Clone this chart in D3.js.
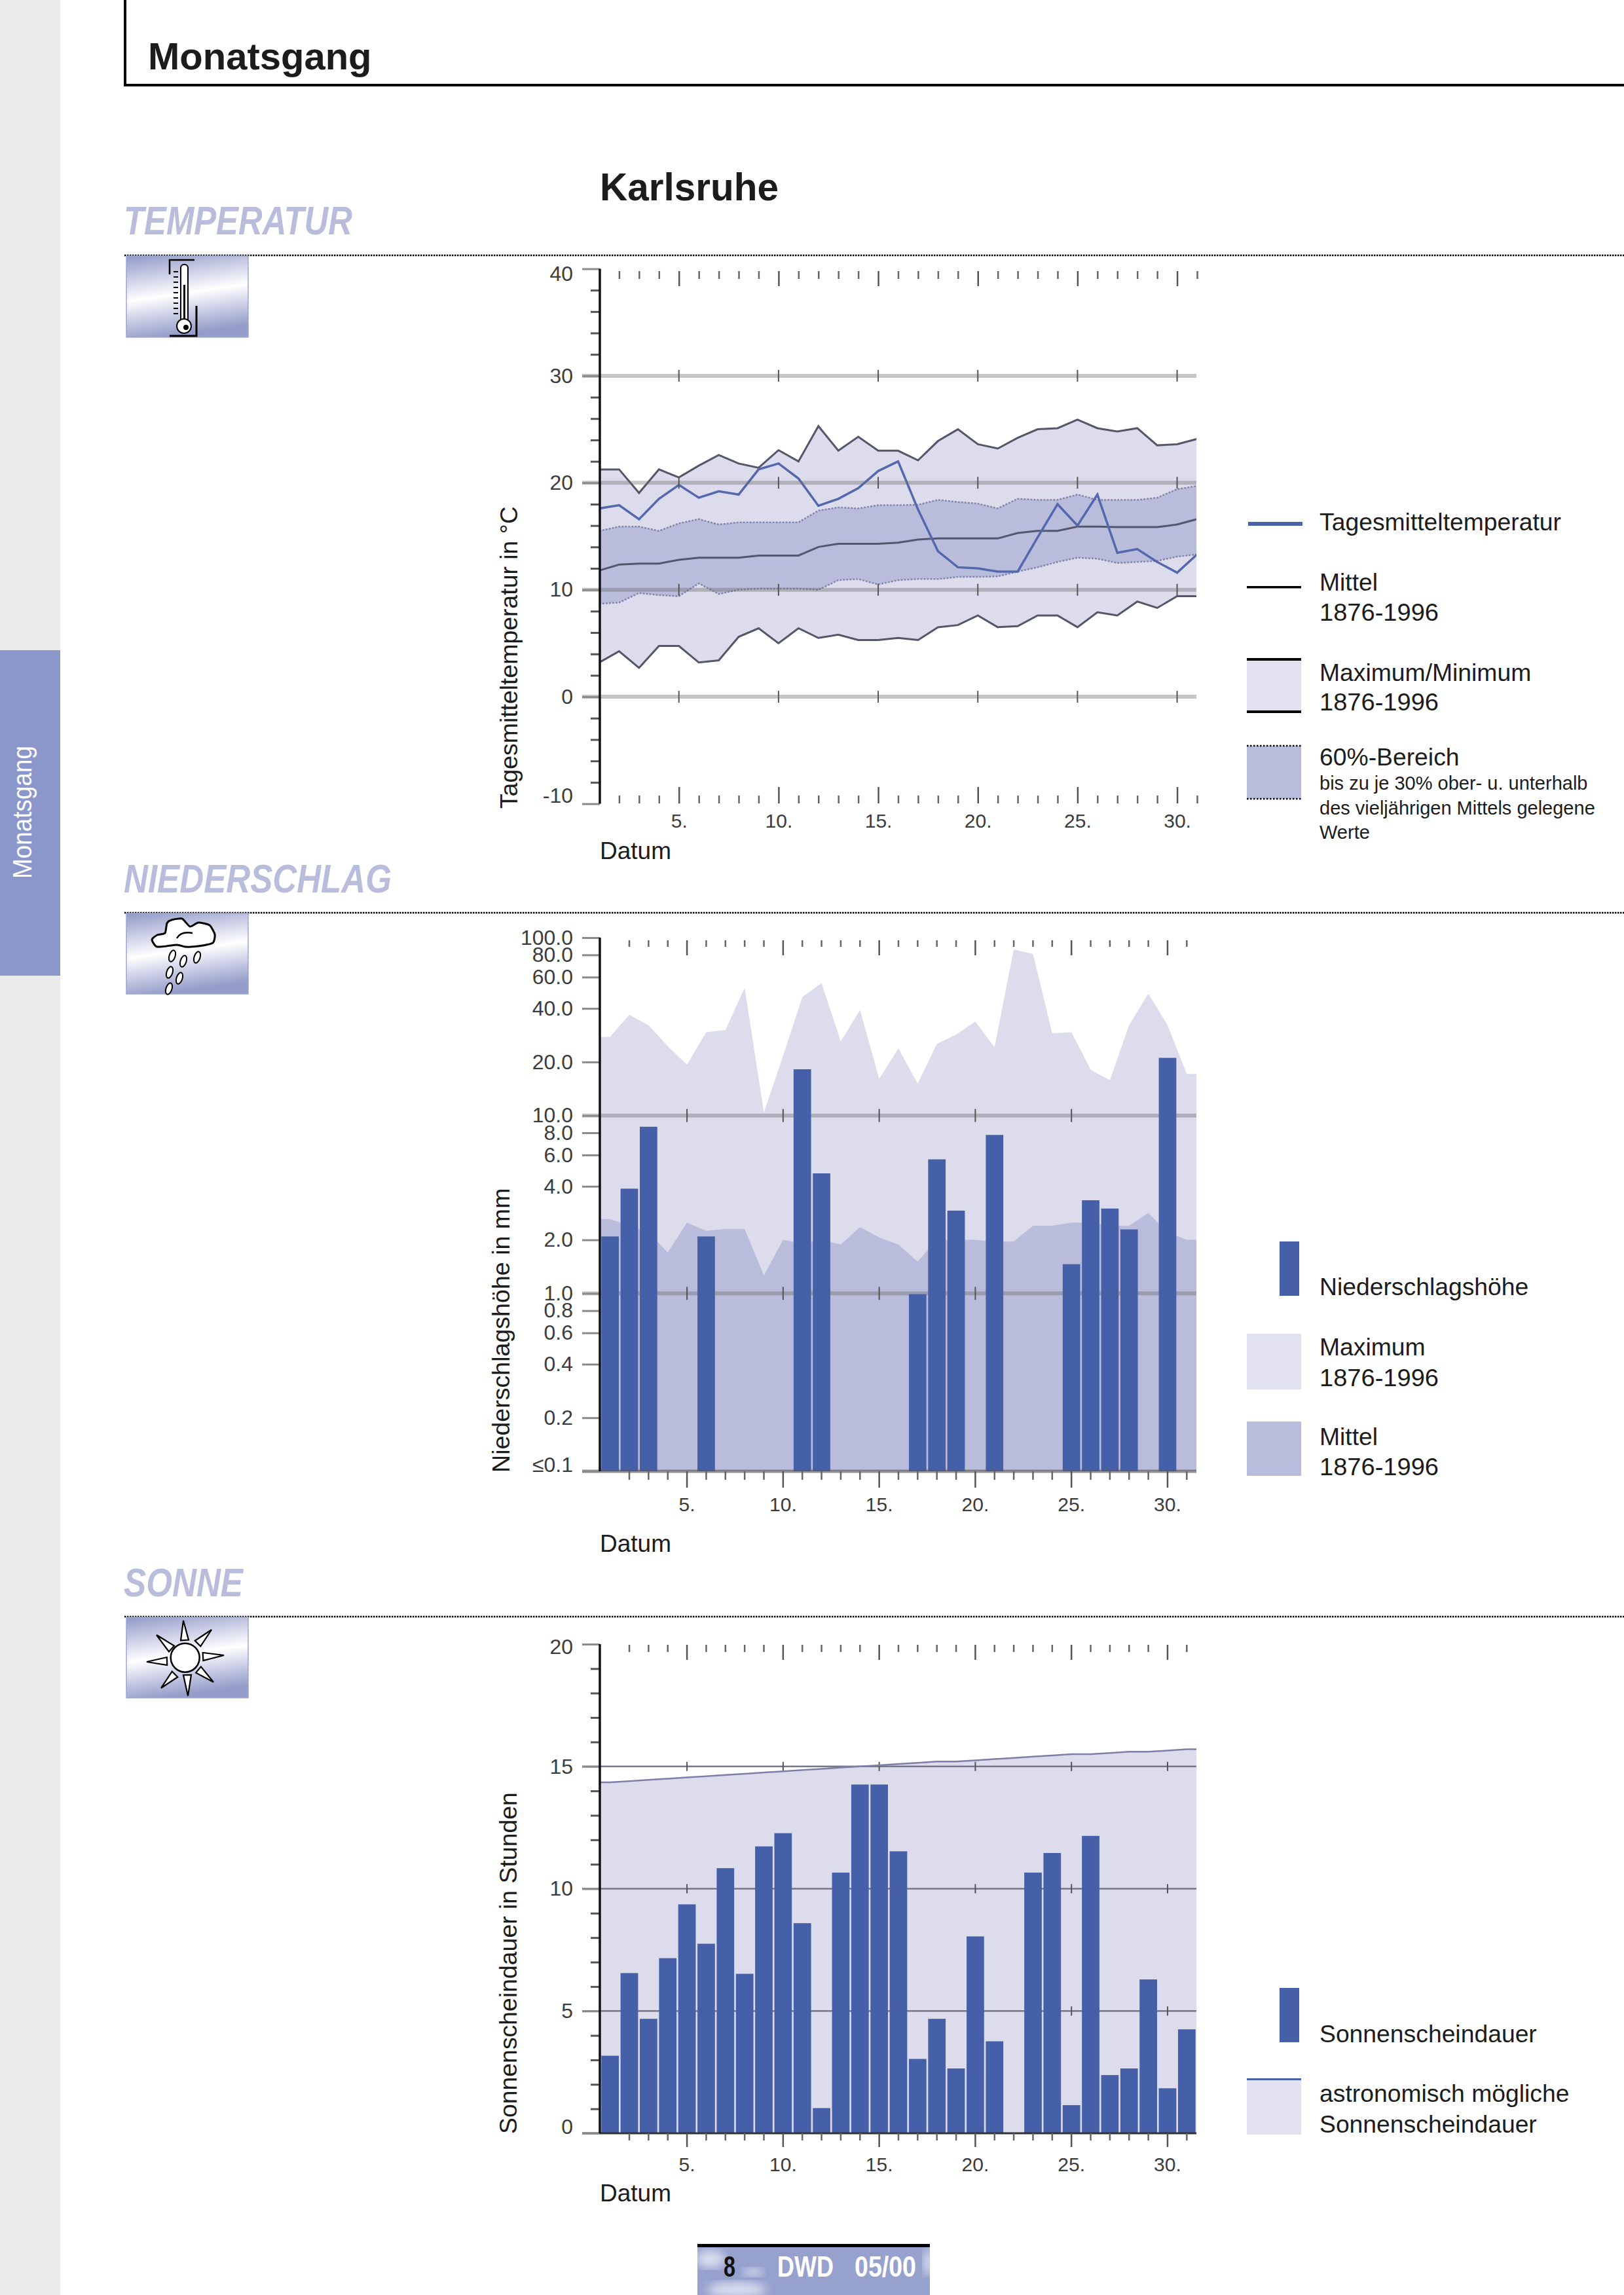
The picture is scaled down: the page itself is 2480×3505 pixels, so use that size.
<!DOCTYPE html>
<html>
<head>
<meta charset="utf-8">
<title>Monatsgang Karlsruhe</title>
<script src="https://cdnjs.cloudflare.com/ajax/libs/d3/7.8.5/d3.min.js"></script>
<style>
  html, body { margin: 0; padding: 0; background: #fff; }
  svg { display: block; }
  text { font-family: "Liberation Sans", Arial, sans-serif; fill: #1c1c1c; }
  .domain { display: none; }
</style>
</head>
<body>
<svg class="page" width="2480" height="3505"></svg>
<script>
var days = d3.range(1, 32);
var labelDays = [5, 10, 15, 20, 25, 30];

// Temperatur
var tempMax = [21.25, 21.25, 19.05, 21.25, 20.5, 21.6, 22.6, 21.8, 21.4, 23.05, 22.0, 25.3, 23.0, 24.3, 23.0, 23.0, 22.1, 23.9, 25.0, 23.6, 23.2, 24.2, 25.0, 25.1, 25.9, 25.1, 24.8, 25.1, 23.5, 23.6, 24.1];
var tempUpper = [15.5, 15.9, 15.9, 15.5, 16.2, 16.6, 16.1, 16.3, 16.3, 16.3, 16.3, 17.4, 17.7, 17.6, 17.9, 17.9, 17.95, 18.4, 18.2, 18.05, 17.6, 18.5, 18.4, 18.4, 18.9, 18.4, 18.4, 18.4, 18.6, 19.4, 19.7];
var tempMean = [11.8, 12.35, 12.45, 12.45, 12.8, 13.0, 13.0, 13.0, 13.2, 13.2, 13.2, 14.0, 14.3, 14.3, 14.3, 14.4, 14.7, 14.8, 14.8, 14.8, 14.8, 15.3, 15.5, 15.5, 15.9, 15.9, 15.85, 15.85, 15.85, 16.1, 16.6];
var tempLower = [8.7, 8.8, 9.7, 9.5, 9.4, 10.6, 9.6, 10.0, 10.1, 10.1, 10.1, 10.0, 10.9, 11.0, 10.5, 10.9, 11.0, 11.0, 11.2, 11.2, 11.25, 11.7, 12.1, 12.6, 13.0, 12.9, 12.5, 12.6, 12.7, 13.1, 13.3];
var tempMin = [3.2, 4.25, 2.7, 4.75, 4.75, 3.2, 3.4, 5.6, 6.4, 5.0, 6.4, 5.5, 5.8, 5.3, 5.3, 5.5, 5.3, 6.5, 6.7, 7.6, 6.5, 6.6, 7.6, 7.6, 6.5, 7.9, 7.6, 8.9, 8.3, 9.4, 9.4];
var tempDay = [17.6, 17.9, 16.6, 18.5, 19.8, 18.6, 19.2, 18.9, 21.25, 21.8, 20.4, 17.85, 18.5, 19.5, 21.1, 22.0, 17.5, 13.6, 12.1, 12.0, 11.7, 11.7, 14.9, 18.0, 16.0, 18.9, 13.45, 13.8, 12.6, 11.6, 13.3];
var tempLabels = [40, 30, 20, 10, 0, -10];
var tempGrid = [30, 20, 10, 0];

// Niederschlag
var rainMax = [27.7, 36.9, 32.2, 24.5, 19.3, 29.4, 30.3, 52.2, 10.4, 21.7, 46.3, 55.5, 26.1, 39.2, 16.1, 23.8, 15.1, 25.3, 28.5, 33.7, 24.2, 85.9, 80.9, 29.0, 29.4, 18.1, 15.8, 32.2, 48.4, 32.2, 17.1];
var rainMean = [2.62, 2.4, 2.2, 1.7, 2.5, 2.25, 2.3, 2.3, 1.26, 2.0, 1.9, 2.0, 1.88, 2.36, 2.06, 1.88, 1.51, 2.0, 2.0, 2.0, 1.95, 1.96, 2.4, 2.4, 2.5, 2.5, 2.4, 2.4, 2.83, 2.2, 2.0];
var rainDay = [2.09, 3.88, 8.65, 0, 0, 2.09, 0, 0, 0, 0, 18.2, 4.73, 0, 0, 0, 0, 0.99, 5.67, 2.92, 0, 7.78, 0, 0, 0, 1.46, 3.34, 3.0, 2.29, 0, 21.1, 0];
var rainTicks = [100, 80, 60, 40, 20, 10, 8, 6, 4, 2, 1, 0.8, 0.6, 0.4, 0.2, 0.1];
var rainGrid = [10, 1];

// Sonne
var sunDay = [3.17, 6.55, 4.68, 7.16, 9.36, 7.75, 10.84, 6.52, 11.73, 12.27, 8.59, 1.03, 10.66, 14.26, 14.26, 11.53, 3.04, 4.68, 2.65, 8.05, 3.76, 0, 10.66, 11.46, 1.15, 12.16, 2.38, 2.65, 6.29, 1.84, 4.25];
var sunAstro = [14.35, 14.4, 14.45, 14.5, 14.55, 14.6, 14.65, 14.7, 14.75, 14.8, 14.85, 14.9, 14.95, 15.0, 15.05, 15.1, 15.15, 15.2, 15.2, 15.25, 15.3, 15.35, 15.4, 15.45, 15.5, 15.5, 15.55, 15.6, 15.6, 15.65, 15.7];
var sunLabels = [20, 15, 10, 5, 0];
var sunGrid = [15, 10, 5];

var LIGHT = "#dcdcec";
var MID = "#babcdb";
var BLUE = "#4560a8";
var AXIS_X = 916;
var GRID_LEFT = 889;
var PLOT_RIGHT = 1827;

var svg = d3.select(".page");

function txt(parent, x, y, s, size, opts) {
    opts = opts || {};
    var t = parent.append("text")
        .attr("x", x)
        .attr("y", y)
        .attr("font-size", size)
        .text(s);
    if (opts.bold) t.attr("font-weight", "bold");
    if (opts.italic) t.attr("font-style", "italic");
    if (opts.fill) t.style("fill", opts.fill);
    if (opts.len) t.attr("textLength", opts.len).attr("lengthAdjust", "spacingAndGlyphs");
    if (opts.anchor) t.attr("text-anchor", opts.anchor);
    return t;
}

function yTitle(x, bottom, s, size) {
    svg.append("text")
        .attr("transform", "translate(" + x + "," + bottom + ") rotate(-90)")
        .attr("font-size", size)
        .text(s);
}

// left axis: long grey ticks with labels, short ticks without.
// the end labels sit a little inside the axis, hence nudge
function leftAxis(y, majors, minors, fmt, nudge) {
    svg.append("g")
        .attr("transform", "translate(" + AXIS_X + ",0)")
        .call(d3.axisLeft(y).tickValues(minors).tickSize(14).tickFormat(""))
        .selectAll("line").attr("stroke", "#555").attr("stroke-width", 3);
    var g = svg.append("g")
        .attr("transform", "translate(" + AXIS_X + ",0)")
        .call(d3.axisLeft(y).tickValues(majors).tickSize(AXIS_X - GRID_LEFT).tickPadding(14).tickFormat(fmt));
    g.selectAll("line").attr("stroke", "#8a8a8a").attr("stroke-width", 3);
    g.selectAll("text")
        .attr("font-size", 32)
        .attr("y", function(d) { return nudge[d] || 0; })
        .style("font-family", '"Liberation Sans", Arial, sans-serif')
        .style("fill", "#3c3c3c");
}

function dayTicks(x, axisFn, yPos, minorLen, majorLen) {
    var minors = days.filter(function(d) { return d % 5 != 0 && x(d) > AXIS_X + 3; });
    svg.append("g")
        .attr("transform", "translate(0," + yPos + ")")
        .call(axisFn(x).tickValues(minors).tickSize(minorLen).tickFormat(""))
        .selectAll("line").attr("stroke", "#666").attr("stroke-width", 2.5);
    svg.append("g")
        .attr("transform", "translate(0," + yPos + ")")
        .call(axisFn(x).tickValues(labelDays).tickSize(majorLen).tickFormat(""))
        .selectAll("line").attr("stroke", "#555").attr("stroke-width", 2.5);
}

function dayLabels(x, yPos) {
    var g = svg.append("g")
        .attr("transform", "translate(0," + yPos + ")")
        .call(d3.axisBottom(x).tickValues(labelDays).tickSize(0).tickFormat(function(d) { return d + "."; }));
    g.selectAll("text")
        .attr("y", 0)
        .attr("dy", 0)
        .attr("font-size", 30)
        .style("font-family", '"Liberation Sans", Arial, sans-serif')
        .style("fill", "#3c3c3c");
}

function gridLines(parent, y, vals, color, width) {
    parent.selectAll(".grid")
        .data(vals)
        .enter()
        .append("line")
        .attr("x1", GRID_LEFT)
        .attr("x2", PLOT_RIGHT)
        .attr("y1", function(d) { return y(d); })
        .attr("y2", function(d) { return y(d); })
        .attr("stroke", color)
        .attr("stroke-width", width);
}

function gridCross(parent, x, y, vals, half) {
    vals.forEach(function(v) {
        parent.selectAll(".cross")
            .data(labelDays)
            .enter()
            .append("line")
            .attr("x1", function(d) { return x(d) + (x.bandwidth ? x.bandwidth() / 2 : 0); })
            .attr("x2", function(d) { return x(d) + (x.bandwidth ? x.bandwidth() / 2 : 0); })
            .attr("y1", y(v) - half)
            .attr("y2", y(v) + half)
            .attr("stroke", "#555")
            .attr("stroke-width", 2);
    });
}

function axisLine(y1, y2) {
    svg.append("line")
        .attr("x1", AXIS_X).attr("x2", AXIS_X)
        .attr("y1", y1).attr("y2", y2)
        .attr("stroke", "#111")
        .attr("stroke-width", 3.5);
}

// ---------- temperature chart
function chartTemp() {
    var x = d3.scaleLinear().domain([1, 31]).range([915, 1828]);
    var y = d3.scaleLinear().domain([-10, 40]).range([1227.5, 410.5]);
    var g = svg.append("g").attr("clip-path", "url(#clipTemp)");

    var band = function(lo, hi) {
        return d3.area()
            .x(function(d) { return x(d); })
            .y0(function(d) { return y(lo[d - 1]); })
            .y1(function(d) { return y(hi[d - 1]); });
    };
    var line = function(vals) {
        return d3.line()
            .x(function(d) { return x(d); })
            .y(function(d) { return y(vals[d - 1]); });
    };

    svg.append("clipPath").attr("id", "clipTemp").append("rect")
        .attr("x", AXIS_X).attr("y", 380).attr("width", PLOT_RIGHT - AXIS_X).attr("height", 880);

    g.append("path").attr("d", band(tempMin, tempMax)(days)).attr("fill", LIGHT);
    g.append("path").attr("d", band(tempLower, tempUpper)(days)).attr("fill", MID);

    gridLines(svg, y, tempGrid, "rgba(105,105,105,0.38)", 6);
    gridCross(svg, x, y, tempGrid, 9);

    g.append("path").attr("d", line(tempUpper)(days)).attr("fill", "none").attr("stroke", "#8587ad").attr("stroke-width", 2.5).attr("stroke-dasharray", "3 2");
    g.append("path").attr("d", line(tempLower)(days)).attr("fill", "none").attr("stroke", "#8587ad").attr("stroke-width", 2.5).attr("stroke-dasharray", "3 2");
    g.append("path").attr("d", line(tempMean)(days)).attr("fill", "none").attr("stroke", "#55566f").attr("stroke-width", 3);
    g.append("path").attr("d", line(tempMax)(days)).attr("fill", "none").attr("stroke", "#55566a").attr("stroke-width", 3);
    g.append("path").attr("d", line(tempMin)(days)).attr("fill", "none").attr("stroke", "#55566a").attr("stroke-width", 3);
    g.append("path").attr("d", line(tempDay)(days)).attr("fill", "none").attr("stroke", "#5567ad").attr("stroke-width", 3.5);

    var minors = d3.range(-10, 41, 2).filter(function(d) { return d % 10 != 0; });
    leftAxis(y, tempLabels, minors, function(d) { return d; }, { "40": 8, "-10": -12 });
    axisLine(y(40), y(-10));
    dayTicks(x, d3.axisBottom, 414, 12, 23);
    dayTicks(x, d3.axisTop, 1227, 12, 25);
    dayLabels(x, 1264);

    yTitle(790, 1235, "Tagesmitteltemperatur in °C", 37.4);
    txt(svg, 916, 1312, "Datum", 37);
}

// ---------- precipitation chart
function edgePoints(x, vals) {
    var pts = days.map(function(d, i) { return { px: x(d) + x.bandwidth() / 2, v: vals[i] }; });
    pts.unshift({ px: x.range()[0], v: vals[0] });
    pts.push({ px: x.range()[1], v: vals[vals.length - 1] });
    return pts;
}

function chartRain() {
    var x = d3.scaleBand().domain(days).range([917, 1827]).paddingInner(0.09).paddingOuter(0.045);
    var y = d3.scaleLog().domain([0.1, 100]).range([2247, 1432]);
    var area = d3.area()
        .x(function(d) { return d.px; })
        .y0(y(0.1))
        .y1(function(d) { return y(d.v); });

    svg.append("path").attr("d", area(edgePoints(x, rainMax))).attr("fill", LIGHT);
    svg.append("path").attr("d", area(edgePoints(x, rainMean))).attr("fill", MID);

    gridLines(svg, y, rainGrid, "rgba(105,105,105,0.38)", 6);
    gridCross(svg, x, y, rainGrid, 10);

    svg.selectAll(".rainbar")
        .data(days.filter(function(d) { return rainDay[d - 1] > 0; }))
        .enter()
        .append("rect")
        .attr("class", "rainbar")
        .attr("x", function(d) { return x(d); })
        .attr("width", x.bandwidth())
        .attr("y", function(d) { return y(rainDay[d - 1]); })
        .attr("height", function(d) { return y(0.1) - y(rainDay[d - 1]); })
        .attr("fill", BLUE);

    svg.append("line")
        .attr("x1", GRID_LEFT).attr("x2", PLOT_RIGHT)
        .attr("y1", y(0.1)).attr("y2", y(0.1))
        .attr("stroke", "rgba(90,90,90,0.65)").attr("stroke-width", 5);

    leftAxis(y, rainTicks, [], function(d) {
        if (d == 0.1) return "≤0.1";
        return d3.format(".1f")(d);
    }, { "0.1": -10 });
    axisLine(y(100), y(0.1));
    dayTicks(x, d3.axisBottom, 1436, 10, 23);
    dayTicks(x, d3.axisBottom, 2247, 13, 25);
    dayLabels(x, 2308);

    yTitle(778, 2249, "Niederschlagshöhe in mm", 37.6);
    txt(svg, 916, 2370, "Datum", 37);
}

// ---------- sunshine chart
function chartSun() {
    var x = d3.scaleBand().domain(days).range([917, 1827]).paddingInner(0.09).paddingOuter(0.045);
    var y = d3.scaleLinear().domain([0, 20]).range([3258, 2511]);
    var area = d3.area()
        .x(function(d) { return d.px; })
        .y0(y(0))
        .y1(function(d) { return y(d.v); });
    var top = d3.line()
        .x(function(d) { return d.px; })
        .y(function(d) { return y(d.v); });

    svg.append("path").attr("d", area(edgePoints(x, sunAstro))).attr("fill", LIGHT);

    gridLines(svg, y, sunGrid, "#77778a", 2.5);
    gridCross(svg, x, y, sunGrid, 7);

    svg.append("path").attr("d", top(edgePoints(x, sunAstro)))
        .attr("fill", "none").attr("stroke", "#7d7fa6").attr("stroke-width", 2.5);

    svg.selectAll(".sunbar")
        .data(days.filter(function(d) { return sunDay[d - 1] > 0; }))
        .enter()
        .append("rect")
        .attr("class", "sunbar")
        .attr("x", function(d) { return x(d); })
        .attr("width", x.bandwidth())
        .attr("y", function(d) { return y(sunDay[d - 1]); })
        .attr("height", function(d) { return y(0) - y(sunDay[d - 1]); })
        .attr("fill", BLUE);

    svg.append("line")
        .attr("x1", GRID_LEFT).attr("x2", PLOT_RIGHT)
        .attr("y1", y(0)).attr("y2", y(0))
        .attr("stroke", "#333").attr("stroke-width", 3);

    var minors = d3.range(0, 21).filter(function(d) { return d % 5 != 0; });
    leftAxis(y, sunLabels, minors, function(d) { return d; }, { "20": 4, "0": -10 });
    axisLine(y(20), y(0));
    dayTicks(x, d3.axisBottom, 2512, 11, 23);
    dayTicks(x, d3.axisBottom, 3258, 11, 21);
    dayLabels(x, 3316);

    yTitle(789, 3259, "Sonnenscheindauer in Stunden", 37.4);
    txt(svg, 916, 3362, "Datum", 37);
}

// ---------- legends
function legends() {
    var lx = 2015;
    var fs = 37.3;
    svg.append("rect").attr("x", 1906).attr("y", 797).attr("width", 83).attr("height", 6).attr("fill", "#4a62a8");
    txt(svg, lx, 810, "Tagesmitteltemperatur", fs);

    svg.append("rect").attr("x", 1904).attr("y", 895).attr("width", 83).attr("height", 3.5).attr("fill", "#000");
    txt(svg, lx, 902, "Mittel", fs);
    txt(svg, lx, 948, "1876-1996", fs, { len: 182 });

    svg.append("rect").attr("x", 1904).attr("y", 1007).attr("width", 83).attr("height", 80).attr("fill", "#e1e1ef");
    svg.append("rect").attr("x", 1904).attr("y", 1005).attr("width", 83).attr("height", 4).attr("fill", "#000");
    svg.append("rect").attr("x", 1904).attr("y", 1085).attr("width", 83).attr("height", 4).attr("fill", "#000");
    txt(svg, lx, 1040, "Maximum/Minimum", fs);
    txt(svg, lx, 1085, "1876-1996", fs, { len: 182 });

    svg.append("rect").attr("x", 1904).attr("y", 1139).attr("width", 83).attr("height", 81).attr("fill", MID);
    [1139, 1220].forEach(function(yy) {
        svg.append("line").attr("x1", 1904).attr("x2", 1987).attr("y1", yy).attr("y2", yy)
            .attr("stroke", "#000").attr("stroke-width", 2.5).attr("stroke-dasharray", "2.5 2.5");
    });
    txt(svg, lx, 1169, "60%-Bereich", fs);
    txt(svg, lx, 1206, "bis zu je 30% ober- u. unterhalb", 29);
    txt(svg, lx, 1244, "des vieljährigen Mittels gelegene", 29);
    txt(svg, lx, 1281, "Werte", 29);

    svg.append("rect").attr("x", 1954).attr("y", 1896).attr("width", 30).attr("height", 83).attr("fill", BLUE);
    txt(svg, lx, 1978, "Niederschlagshöhe", fs);
    svg.append("rect").attr("x", 1904).attr("y", 2037).attr("width", 83).attr("height", 85).attr("fill", "#e1e1ef");
    txt(svg, lx, 2070, "Maximum", fs);
    txt(svg, lx, 2117, "1876-1996", fs, { len: 182 });
    svg.append("rect").attr("x", 1904).attr("y", 2171).attr("width", 83).attr("height", 83).attr("fill", MID);
    txt(svg, lx, 2207, "Mittel", fs);
    txt(svg, lx, 2253, "1876-1996", fs, { len: 182 });

    svg.append("rect").attr("x", 1954).attr("y", 3036).attr("width", 30).attr("height", 83).attr("fill", BLUE);
    txt(svg, lx, 3119, "Sonnenscheindauer", fs);
    svg.append("rect").attr("x", 1904).attr("y", 3175).attr("width", 83).attr("height", 85).attr("fill", "#e1e1ef");
    svg.append("rect").attr("x", 1904).attr("y", 3174).attr("width", 83).attr("height", 3).attr("fill", "#4a62a8");
    txt(svg, lx, 3210, "astronomisch mögliche", fs);
    txt(svg, lx, 3257, "Sonnenscheindauer", fs);
}

// ---------- page furniture
function pageFrame() {
    var defs = svg.append("defs");
    var grad = defs.append("linearGradient").attr("id", "iconGrad")
        .attr("x1", 0.08).attr("y1", 0).attr("x2", 0.3).attr("y2", 1);
    grad.append("stop").attr("offset", 0).attr("stop-color", "#949dc9");
    grad.append("stop").attr("offset", 0.28).attr("stop-color", "#cfd1e7");
    grad.append("stop").attr("offset", 0.52).attr("stop-color", "#ffffff");
    grad.append("stop").attr("offset", 0.72).attr("stop-color", "#d2d4e9");
    grad.append("stop").attr("offset", 1).attr("stop-color", "#949dc9");
    defs.append("filter").attr("id", "soft").append("feGaussianBlur").attr("stdDeviation", 7);

    svg.append("rect").attr("x", 0).attr("y", 0).attr("width", 92).attr("height", 3505).attr("fill", "#ebebeb");
    svg.append("rect").attr("x", 0).attr("y", 993).attr("width", 92).attr("height", 497).attr("fill", "#8b97ca");
    svg.append("text")
        .attr("transform", "translate(48,1342) rotate(-90)")
        .attr("font-size", 41)
        .attr("textLength", 203)
        .attr("lengthAdjust", "spacingAndGlyphs")
        .style("fill", "#fff")
        .text("Monatsgang");

    svg.append("line").attr("x1", 191).attr("x2", 191).attr("y1", 0).attr("y2", 132).attr("stroke", "#000").attr("stroke-width", 4);
    svg.append("line").attr("x1", 189).attr("x2", 2480).attr("y1", 130).attr("y2", 130).attr("stroke", "#000").attr("stroke-width", 4);
    txt(svg, 226, 106, "Monatsgang", 58, { bold: true });
    txt(svg, 916, 306, "Karlsruhe", 58.5, { bold: true });

    var heads = [["TEMPERATUR", 358, 349, 390], ["NIEDERSCHLAG", 1363, 409, 1394], ["SONNE", 2438, 182, 2469]];
    heads.forEach(function(h) {
        txt(svg, 189, h[1], h[0], 62, { bold: true, italic: true, fill: "#b9bddb", len: h[2] });
        svg.append("line").attr("x1", 190).attr("x2", 2480).attr("y1", h[3]).attr("y2", h[3])
            .attr("stroke", "#000").attr("stroke-width", 2.5).attr("stroke-dasharray", "2.5 1.5");
    });

    // footer
    svg.append("rect").attr("x", 1065).attr("y", 3430).attr("width", 355).attr("height", 75).attr("fill", "#97a1ce");
    var clip = defs.append("clipPath").attr("id", "footClip");
    clip.append("rect").attr("x", 1065).attr("y", 3430).attr("width", 355).attr("height", 75);
    var foot = svg.append("g").attr("clip-path", "url(#footClip)");
    [[1085, 3450, 22, 14], [1125, 3497, 45, 12], [1150, 3470, 16, 6], [1418, 3455, 8, 20]].forEach(function(c) {
        foot.append("ellipse").attr("cx", c[0]).attr("cy", c[1]).attr("rx", c[2]).attr("ry", c[3])
            .attr("fill", "#d8dcef").attr("filter", "url(#soft)");
    });
    svg.append("rect").attr("x", 1065).attr("y", 3427).attr("width", 355).attr("height", 5).attr("fill", "#000");
    txt(svg, 1105, 3477, "8", 45, { bold: true, fill: "#111", len: 18 });
    txt(svg, 1187, 3477, "DWD", 45, { bold: true, fill: "#fff", len: 86 });
    txt(svg, 1305, 3477, "05/00", 45, { bold: true, fill: "#fff", len: 94 });
}

function iconBox(y, h) {
    svg.append("rect")
        .attr("x", 193).attr("y", y).attr("width", 186).attr("height", h)
        .attr("fill", "url(#iconGrad)")
        .attr("stroke", "#9ea6cf").attr("stroke-width", 1.5);
}

function iconThermo() {
    iconBox(391, 124);
    var g = svg.append("g");
    g.append("path").attr("d", "M297,397 H259 V419").attr("fill", "none").attr("stroke", "#000").attr("stroke-width", 2.5);
    g.append("path").attr("d", "M300,467 V513 H259").attr("fill", "none").attr("stroke", "#000").attr("stroke-width", 3);
    g.append("rect").attr("x", 276).attr("y", 404).attr("width", 11).attr("height", 88).attr("rx", 5)
        .attr("fill", "#fff").attr("stroke", "#000").attr("stroke-width", 2);
    g.append("line").attr("x1", 281.5).attr("x2", 281.5).attr("y1", 435).attr("y2", 490).attr("stroke", "#000").attr("stroke-width", 3);
    g.append("circle").attr("cx", 281).attr("cy", 498).attr("r", 11).attr("fill", "#fff").attr("stroke", "#000").attr("stroke-width", 2);
    g.append("circle").attr("cx", 284).attr("cy", 500).attr("r", 4).attr("fill", "#000");
    d3.range(415, 484, 8).forEach(function(yy) {
        g.append("line").attr("x1", 265).attr("x2", 272).attr("y1", yy).attr("y2", yy).attr("stroke", "#000").attr("stroke-width", 2);
    });
}

function iconCloud() {
    iconBox(1395, 123);
    var g = svg.append("g");
    var pts = [[232, 1435], [240, 1428], [252, 1425], [255, 1410], [262, 1405], [278, 1403], [290, 1415], [303, 1409], [320, 1413], [328, 1427], [325, 1440], [303, 1445], [283, 1446], [270, 1443], [240, 1446]];
    g.append("path")
        .attr("d", d3.line().curve(d3.curveCardinalClosed.tension(0.4))(pts))
        .attr("fill", "#fff").attr("stroke", "#000").attr("stroke-width", 3);
    g.append("path").attr("d", "M270,1433 Q276,1422 294,1425").attr("fill", "none").attr("stroke", "#000").attr("stroke-width", 2.5);
    [[263, 1460], [280, 1468], [301, 1462], [259, 1485], [274, 1494], [258, 1510]].forEach(function(p) {
        g.append("ellipse")
            .attr("cx", p[0]).attr("cy", p[1]).attr("rx", 4.5).attr("ry", 9)
            .attr("transform", "rotate(18 " + p[0] + " " + p[1] + ")")
            .attr("fill", "#fff").attr("stroke", "#000").attr("stroke-width", 2);
    });
}

function iconSun() {
    iconBox(2470, 123);
    var g = svg.append("g");
    var cx = 282.7, cy = 2531.7;
    g.append("circle").attr("cx", cx).attr("cy", cy).attr("r", 22).attr("fill", "#fff").attr("stroke", "#000").attr("stroke-width", 2.5);
    var rays = [[280, 2475, 282, 2505], [323, 2489, 302, 2510], [342, 2528, 310, 2530], [326, 2569, 303, 2550], [287, 2590, 286, 2558], [246, 2578, 267, 2557], [224, 2538, 255, 2537], [239, 2497, 262, 2518]];
    rays.forEach(function(r) {
        var dx = r[2] - r[0], dy = r[3] - r[1];
        var len = Math.sqrt(dx * dx + dy * dy);
        var nx = -dy / len * 6, ny = dx / len * 6;
        var d = "M" + r[0] + "," + r[1] + " L" + (r[2] + nx) + "," + (r[3] + ny) + " L" + (r[2] - nx) + "," + (r[3] - ny) + " Z";
        g.append("path").attr("d", d).attr("fill", "#fff").attr("stroke", "#000").attr("stroke-width", 2.2);
    });
}

pageFrame();
iconThermo();
iconCloud();
iconSun();
chartTemp();
chartRain();
chartSun();
legends();
</script>
</body>
</html>
